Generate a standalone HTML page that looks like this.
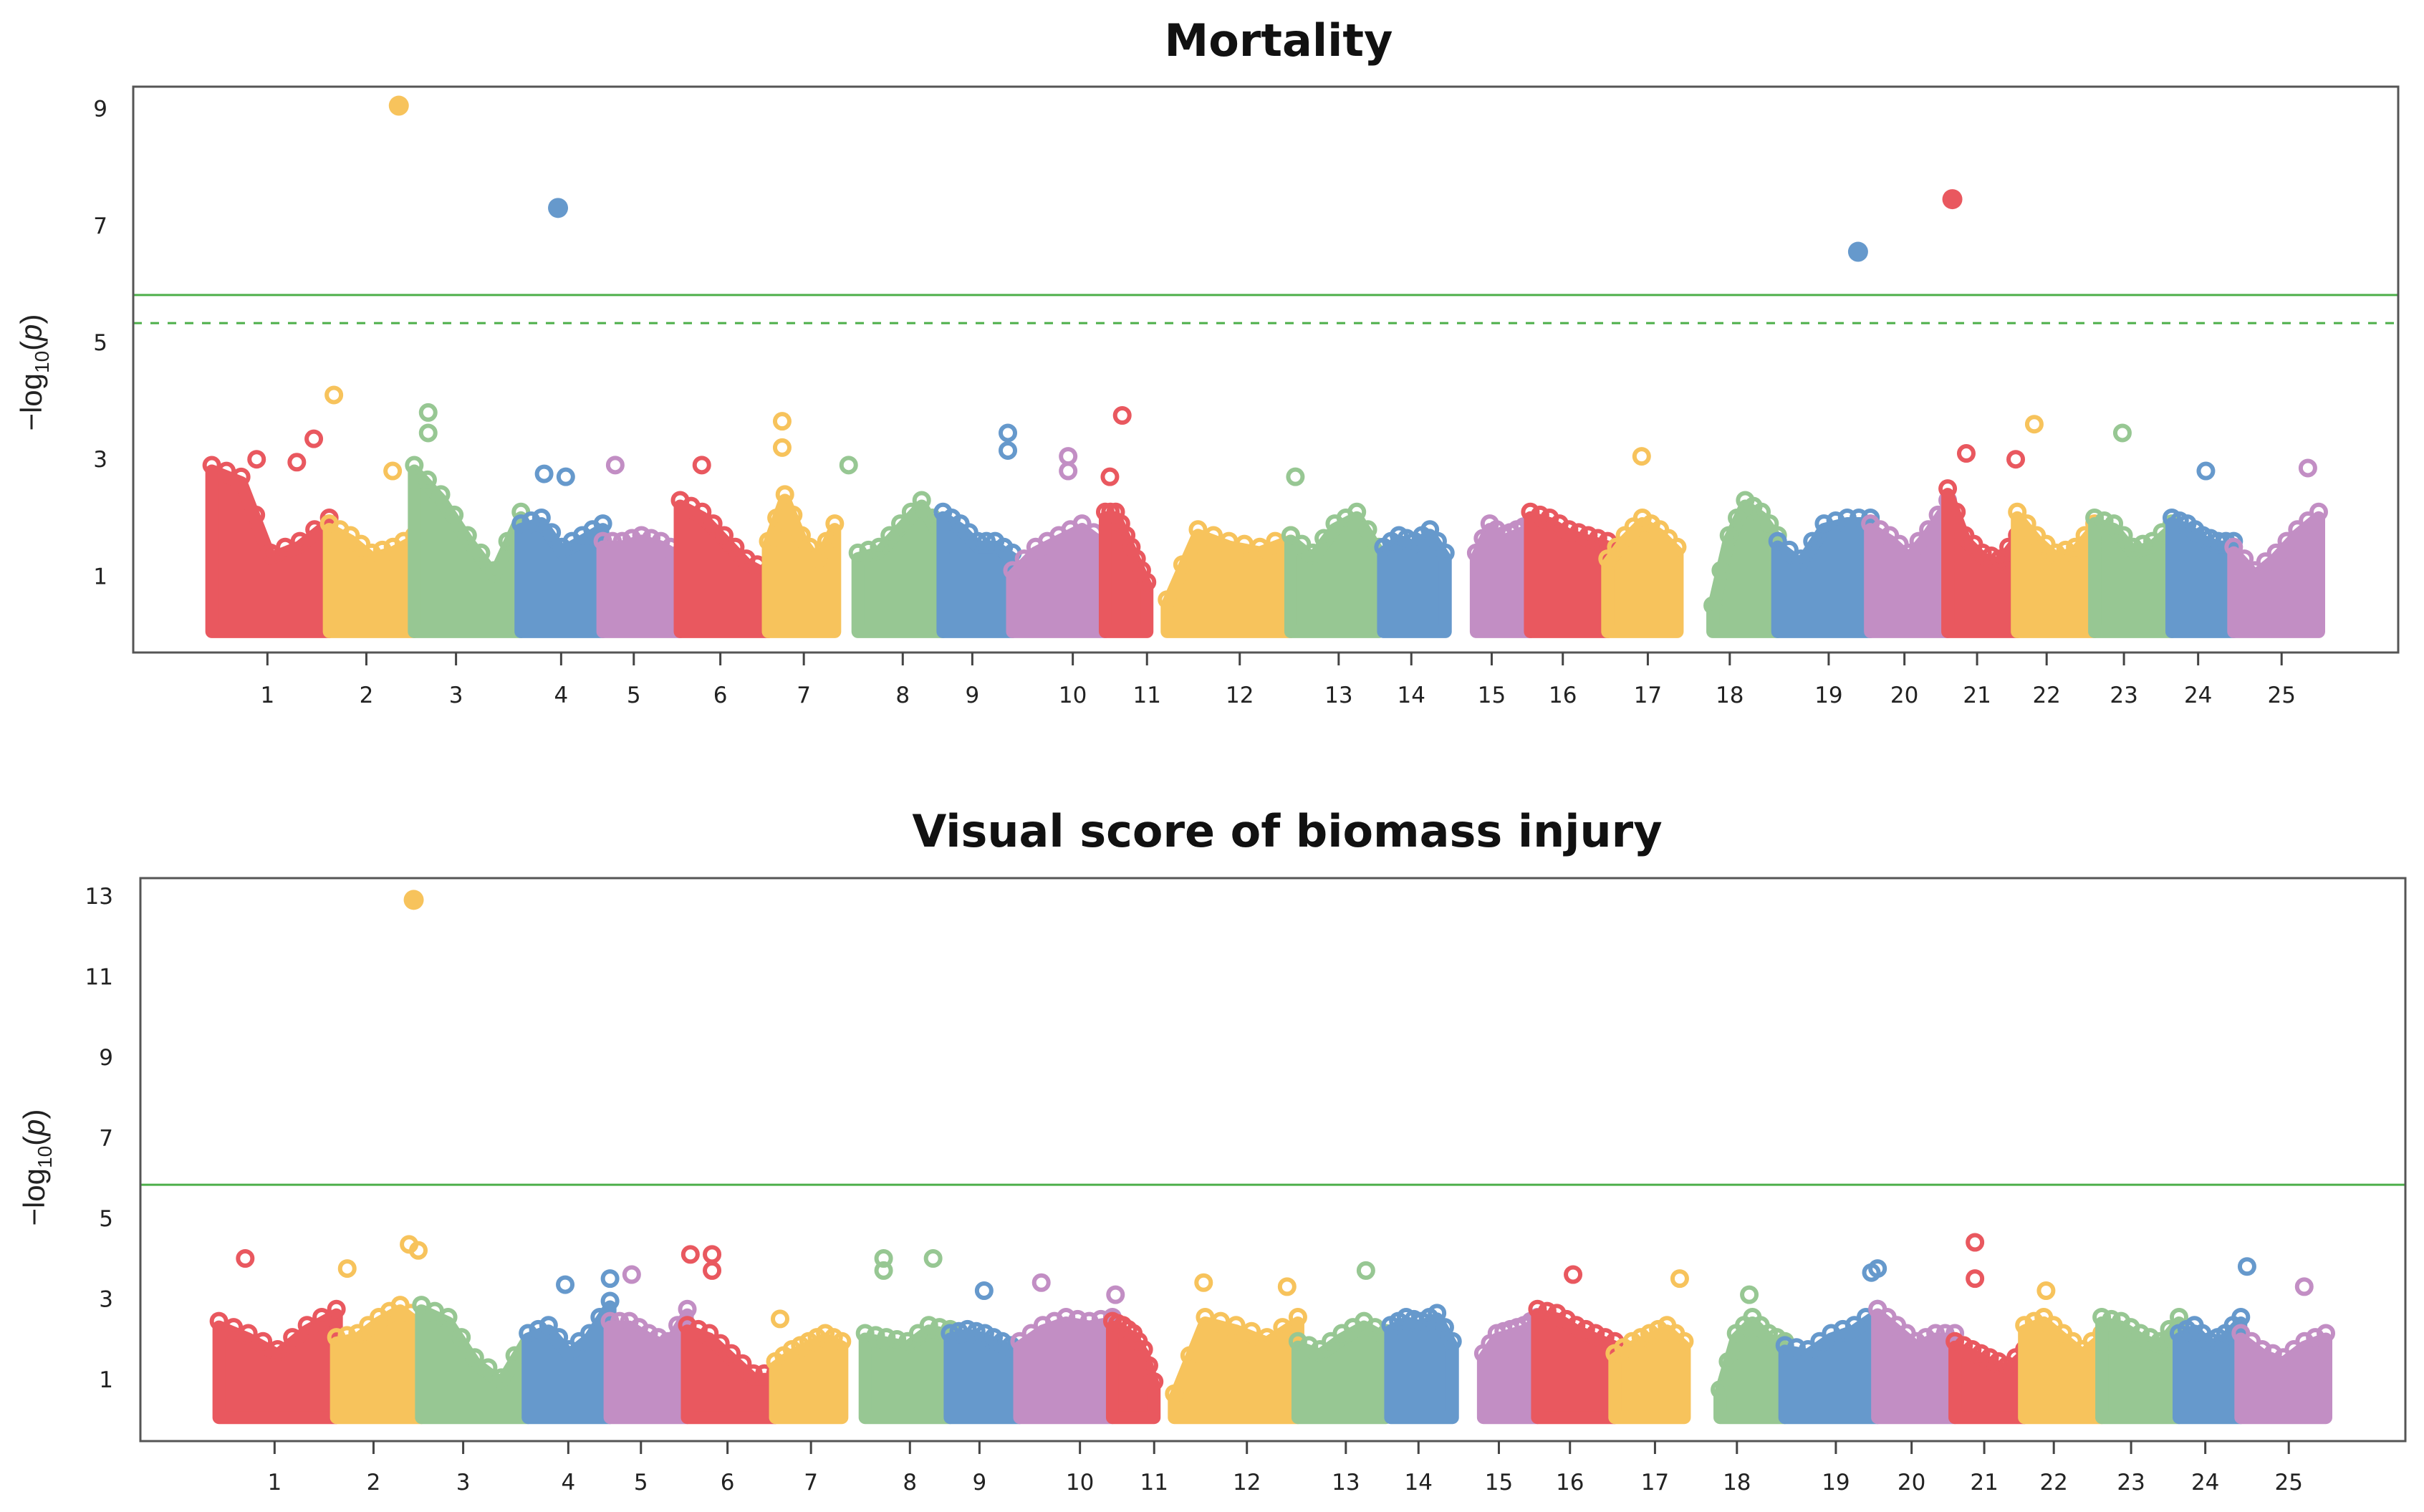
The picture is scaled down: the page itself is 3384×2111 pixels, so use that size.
<!DOCTYPE html>
<html><head><meta charset="utf-8"><style>
html,body{margin:0;padding:0;background:#fff;}
svg{display:block;font-family:"Liberation Sans",Arial,sans-serif;}
</style></head><body>
<svg id="chart" width="3384" height="2111" viewBox="0 0 3384 2111" xmlns="http://www.w3.org/2000/svg"></svg>
<script>
const chrLabels = ["1","2","3","4","5","6","7","8","9","10","11","12","13","14","15","16","17","18","19","20","21","22","23","24","25"];
const chrStart = [137,213,268,337,390,440,497,555,610,655,715,755,835,895,955,990,1040,1108,1150,1210,1260,1305,1355,1405,1445];
const chrEnd   = [213,268,337,390,440,497,540,610,655,715,742,835,892,935,990,1040,1085,1150,1210,1260,1305,1355,1405,1445,1500];
const chrTick  = [173,237,295,363,410,466,520,584,629,694,742,802,866,913,965,1011,1066,1119,1183,1232,1279,1324,1374,1422,1476];
const topEnvelope = [
 [2.8,2.6,1.3,1.5,1.9],[1.8,1.6,1.3,1.4,1.6],[2.8,2.3,1.6,1.0,2.0],[1.8,1.9,1.4,1.6,1.8],[1.5,1.5,1.6,1.5,1.3],
 [2.2,2.0,1.6,1.2,1.0],[1.5,2.3,1.6,1.2,1.8],[1.3,1.4,1.8,2.2,1.6],[2.0,1.8,1.5,1.5,1.3],[1.0,1.4,1.6,1.8,1.5],
 [2.0,2.0,1.6,1.2,0.8],[0.5,1.7,1.5,1.4,1.6],[1.6,1.3,1.8,2.0,1.4],[1.4,1.6,1.5,1.7,1.3],[1.3,1.8,1.6,1.7,1.8],
 [2.0,1.9,1.7,1.6,1.5],[1.2,1.6,1.9,1.7,1.4],[0.4,1.6,2.2,2.0,1.6],[1.5,1.2,1.8,1.9,1.9],[1.8,1.6,1.3,1.7,2.2],
 [2.4,1.6,1.3,1.2,1.6],[2.0,1.6,1.3,1.4,1.8],[1.9,1.8,1.4,1.5,1.8],[1.9,1.8,1.6,1.5,1.5],[1.4,1.0,1.3,1.7,2.0]];
const botEnvelope = [
 [2.3,2.0,1.6,2.2,2.6],[1.9,2.0,2.4,2.7,2.3],[2.7,2.4,1.4,0.9,2.0],[2.0,2.2,1.6,2.0,2.8],[2.3,2.3,2.0,1.8,2.6],
 [2.2,2.0,1.5,1.0,1.0],[1.3,1.6,1.8,2.0,1.8],[2.0,1.9,1.8,2.2,2.1],[2.0,2.1,2.0,1.8,1.6],[1.8,2.2,2.4,2.3,2.4],
 [2.3,2.2,2.0,1.6,0.8],[0.5,2.4,2.2,1.9,2.4],[1.8,1.6,2.0,2.3,2.0],[2.2,2.4,2.3,2.5,1.8],[1.5,2.0,2.1,2.2,2.4],
 [2.6,2.5,2.2,2.0,1.8],[1.5,1.8,2.0,2.2,1.8],[0.6,2.0,2.4,2.0,1.8],[1.7,1.6,2.0,2.2,2.6],[2.6,2.2,1.8,2.0,2.0],
 [1.8,1.6,1.4,1.2,1.6],[2.2,2.4,2.0,1.6,2.0],[2.4,2.3,2.0,1.8,2.4],[2.0,2.2,1.8,2.0,2.4],[2.0,1.6,1.4,1.8,2.0]];
const topHitChr = [1,3,18,20];
const topHitPos = [258,361,1202,1263];
const topHitVal = [9.05,7.3,6.55,7.45];
const topOutChr = [1,2,2,0,0,0,1,3,3,4,5,6,6,7,8,8,9,9,10,10,12,16,21,22,23,20,20,24];
const topOutPos = [216,277,277,203,166,192,254,352,366,398,454,506,506,549,652,652,691,691,726,718,838,1062,1316,1373,1427,1272,1304,1493];
const topOutVal = [4.1,3.8,3.45,3.35,3.0,2.95,2.8,2.75,2.7,2.9,2.9,3.65,3.2,2.9,3.45,3.15,3.05,2.8,3.75,2.7,2.7,3.05,3.6,3.45,2.8,3.1,3.0,2.85];
const botHitChr = [1];
const botHitPos = [263];
const botHitVal = [12.9];
const botOutChr = [0,1,1,1,3,3,4,5,5,5,6,7,7,7,8,9,9,11,11,12,15,16,17,18,18,20,20,21,23,24];
const botOutPos = [154,220,260,266,361,390,404,442,456,456,500,567,567,599,632,669,717,774,828,879,1013,1082,1127,1206,1210,1273,1273,1319,1449,1486];
const botOutVal = [4.0,3.75,4.35,4.2,3.35,3.5,3.6,4.1,4.1,3.7,2.5,4.0,3.7,4.0,3.2,3.4,3.1,3.4,3.3,3.7,3.6,3.5,3.1,3.65,3.75,4.4,3.5,3.2,3.8,3.3];
const yTicksTop = [1,3,5,7,9];
const yTicksBot = [1,3,5,7,9,11,13];
const thrTopSolid = 5.81, thrTopDash = 5.33, thrBot = 5.83;

const colors = ["#E9585F","#F7C35C","#97C793","#6699CC","#C28EC4"];
const NS = "http://www.w3.org/2000/svg";
const svg = document.getElementById('chart');
function mk(tag, attrs, parent){const e=document.createElementNS(NS,tag);for(const k in attrs)e.setAttribute(k,attrs[k]);(parent||svg).appendChild(e);return e;}

function panel(cfg){
  const g = mk('g',{});
  
  
  const X = p => cfg.xs*p + cfg.xo;
  const Y = v => cfg.y0 - v*cfg.unit;
  const t = mk('text',{x:cfg.titleX,y:cfg.titleY,'text-anchor':'middle','font-size':62,'font-weight':'bold',fill:'#111','font-family':'"DejaVu Sans",sans-serif'},g);
  t.textContent = cfg.title;
  
  
  const yl = mk('text',{transform:`translate(${cfg.ylabX},${cfg.ylabY}) rotate(-90)`,'text-anchor':'middle','font-size':42,fill:'#222'},g);
  yl.innerHTML = '\u2212log<tspan font-size="28" dy="10">10</tspan><tspan dy="-10">(</tspan><tspan font-style="italic">p</tspan>)';
  
  
  cfg.yticks.forEach(v=>{
    const tt = mk('text',{x:cfg.ytickX,y:Y(v)+11,'text-anchor':'end','font-size':31,fill:'#222','font-family':'"DejaVu Sans",sans-serif'},g);
    tt.textContent = v;
    
    
  });
  cfg.env.forEach((h,i)=>{
    const s = chrStart[i], e = chrEnd[i], n = h.length;
    const col = colors[i%5];
    let d = `M${X(s)},${Y(0.05)}`;
    const pts = [];
    h.forEach((v,k)=>{const px = X(s + (e-s)*k/(n-1)); pts.push([px,Y(v)]); d += ` L${px},${Y(v)}`;});
    d += ` L${X(e)},${Y(0.05)} Z`;
    const p = mk('path',{d:d,fill:col,stroke:col,'stroke-width':18,'stroke-linejoin':'round'},g);
    
    
    for(let k=0;k<pts.length;k++){
      const [px,py]=pts[k];
      const c = mk('circle',{cx:px,cy:py-8,r:10,fill:'none',stroke:col,'stroke-width':6},g);
      
      
      if(k<pts.length-1){
        const mx=(px+pts[k+1][0])/2, my=(py+pts[k+1][1])/2;
        const c2 = mk('circle',{cx:mx,cy:my-8,r:10,fill:'none',stroke:col,'stroke-width':6},g);
        
        
      }
    }
  });
  cfg.outChr.forEach((ci,k)=>{
    const c = mk('circle',{cx:X(cfg.outPos[k]),cy:Y(cfg.outVal[k]),r:10,fill:'none',stroke:colors[ci%5],'stroke-width':6},g);
    
    
  });
  cfg.thr.forEach(th=>{
    const l = mk('line',{x1:cfg.bx1,x2:cfg.bx2,y1:Y(th.v),y2:Y(th.v),stroke:'#4DAF4A','stroke-width':3},g);
    if(th.dash) l.setAttribute('stroke-dasharray','12 12');
    
    
  });
  cfg.hitChr.forEach((ci,k)=>{
    const c = mk('circle',{cx:X(cfg.hitPos[k]),cy:Y(cfg.hitVal[k]),r:14,fill:colors[ci%5]},g);
    
    
  });
  const b = mk('rect',{x:cfg.bx1,y:cfg.by1,width:cfg.bx2-cfg.bx1,height:cfg.by2-cfg.by1,fill:'none',stroke:'#555','stroke-width':3},g);
  
  
  chrTick.forEach((p,i)=>{
    const l = mk('line',{x1:X(p),x2:X(p),y1:cfg.by2,y2:cfg.by2+18,stroke:'#444','stroke-width':3},g);
    
    
    const tt = mk('text',{x:X(p),y:cfg.xlabY,'text-anchor':'middle','font-size':31,fill:'#222','font-family':'"DejaVu Sans",sans-serif'},g);
    tt.textContent = chrLabels[i];
    
    
  });
}

panel({name:'mortality-panel',title:'Mortality',titleX:1785,titleY:78,ylabX:58,ylabY:520,ytickX:150,
  xs:2.158,xo:0,y0:886,unit:81.6,bx1:186,bx2:3348,by1:121,by2:911,xlabY:981,yticks:yTicksTop,env:topEnvelope,
  outChr:topOutChr,outPos:topOutPos,outVal:topOutVal,hitChr:topHitChr,hitPos:topHitPos,hitVal:topHitVal,
  thr:[{v:thrTopSolid,dash:false},{v:thrTopDash,dash:true}]});
panel({name:'biomass-injury-panel',title:'Visual score of biomass injury',titleX:1797,titleY:1182,ylabX:62,ylabY:1630,ytickX:158,
  xs:2.158,xo:10,y0:1982,unit:56.25,bx1:196,bx2:3358,by1:1226,by2:2012,xlabY:2080,yticks:yTicksBot,env:botEnvelope,
  outChr:botOutChr,outPos:botOutPos,outVal:botOutVal,hitChr:botHitChr,hitPos:botHitPos,hitVal:botHitVal,
  thr:[{v:thrBot,dash:false}]});
</script>
</body></html>
